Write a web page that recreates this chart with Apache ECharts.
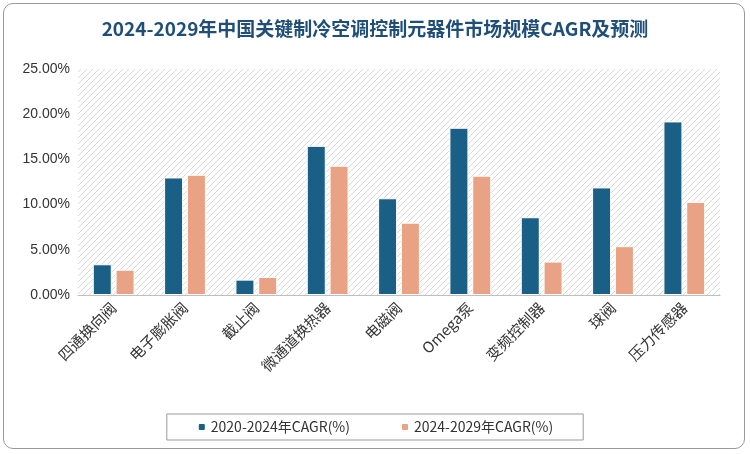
<!DOCTYPE html>
<html>
<head>
<meta charset="utf-8">
<script src="https://cdn.jsdelivr.net/npm/echarts@6/dist/echarts.min.js"></script>
<style>
    html, body { margin: 0; padding: 0; background: #fff; }
    #wrap { position: absolute; left: 3px; top: 3px; width: 742px; height: 446px; border: 1px solid #999; border-radius: 10px; box-sizing: border-box; }
    #chart { width: 750px; height: 454px; position: absolute; left: 0; top: 0; }
</style>
</head>
<body>
<div id="wrap"></div>
<div id="chart"></div>
<script>
    // 数据
    var categories = ['四通换向阀', '电子膨胀阀', '截止阀', '微通道换热器', '电磁阀', 'Omega泵', '变频控制器', '球阀', '压力传感器'];
    var cagr2020 = [3.4, 13.0, 1.7, 16.5, 10.7, 18.5, 8.6, 11.9, 19.2];
    var cagr2024 = [2.8, 13.3, 2.0, 14.3, 8.0, 13.2, 3.7, 5.4, 10.3];
    var seriesNames = ['2020-2024年CAGR(%)', '2024-2029年CAGR(%)'];

    // 斜线底纹
    var pc = document.createElement('canvas');
    pc.width = 6; pc.height = 6;
    var ctx = pc.getContext('2d');
    ctx.fillStyle = '#ffffff';
    ctx.fillRect(0, 0, 6, 6);
    ctx.strokeStyle = '#d9d9d9';
    ctx.lineWidth = 1;
    ctx.beginPath();
    ctx.moveTo(0, 6); ctx.lineTo(6, 0);
    ctx.moveTo(-1, 1); ctx.lineTo(1, -1);
    ctx.moveTo(5, 7); ctx.lineTo(7, 5);
    ctx.stroke();

    var mychart = echarts.init(document.getElementById('chart'));
    var option = {
        title: {
            text: '2024-2029年中国关键制冷空调控制元器件市场规模CAGR及预测',
            left: 'center',
            top: 14,
            textStyle: { fontSize: 19, fontWeight: 'bold', color: '#1f4e79', fontFamily: 'Noto Sans CJK SC' }
        },
        legend: {
            bottom: 14,
            left: 'center',
            data: seriesNames,
            itemWidth: 8,
            itemHeight: 8,
            itemGap: 50,
            padding: [6, 30],
            borderColor: '#999',
            borderWidth: 1,
            textStyle: { fontSize: 14, color: '#333', fontFamily: 'Noto Sans CJK SC' }
        },
        grid: {
            left: 78, right: 30, top: 69, bottom: 159,
            show: true,
            borderWidth: 0,
            backgroundColor: { image: pc, repeat: 'repeat' }
        },
        xAxis: [{
            type: 'category',
            data: categories,
            axisLine: { lineStyle: { color: '#bfbfbf' } },
            axisTick: { show: false },
            axisLabel: { rotate: 45, interval: 0, fontSize: 15, color: '#333', fontFamily: 'Noto Sans CJK SC', margin: 10 }
        }],
        yAxis: [{
            type: 'value',
            min: 0,
            max: 25,
            interval: 5,
            splitLine: { show: false },
            axisLine: { show: false },
            axisLabel: { fontSize: 14, color: '#333', formatter: function (v) { return v.toFixed(2) + '%'; } }
        }],
        series: [{
            name: seriesNames[0],
            type: 'bar',
            data: cagr2020,
            barWidth: 19,
            barGap: '20%',
            itemStyle: { color: '#1a5f86', borderColor: '#fff', borderWidth: 1 }
        }, {
            name: seriesNames[1],
            type: 'bar',
            data: cagr2024,
            barWidth: 19,
            itemStyle: { color: '#e9a283', borderColor: '#fff', borderWidth: 1 }
        }]
    };
    mychart.setOption(option);
</script>
</body>
</html>
